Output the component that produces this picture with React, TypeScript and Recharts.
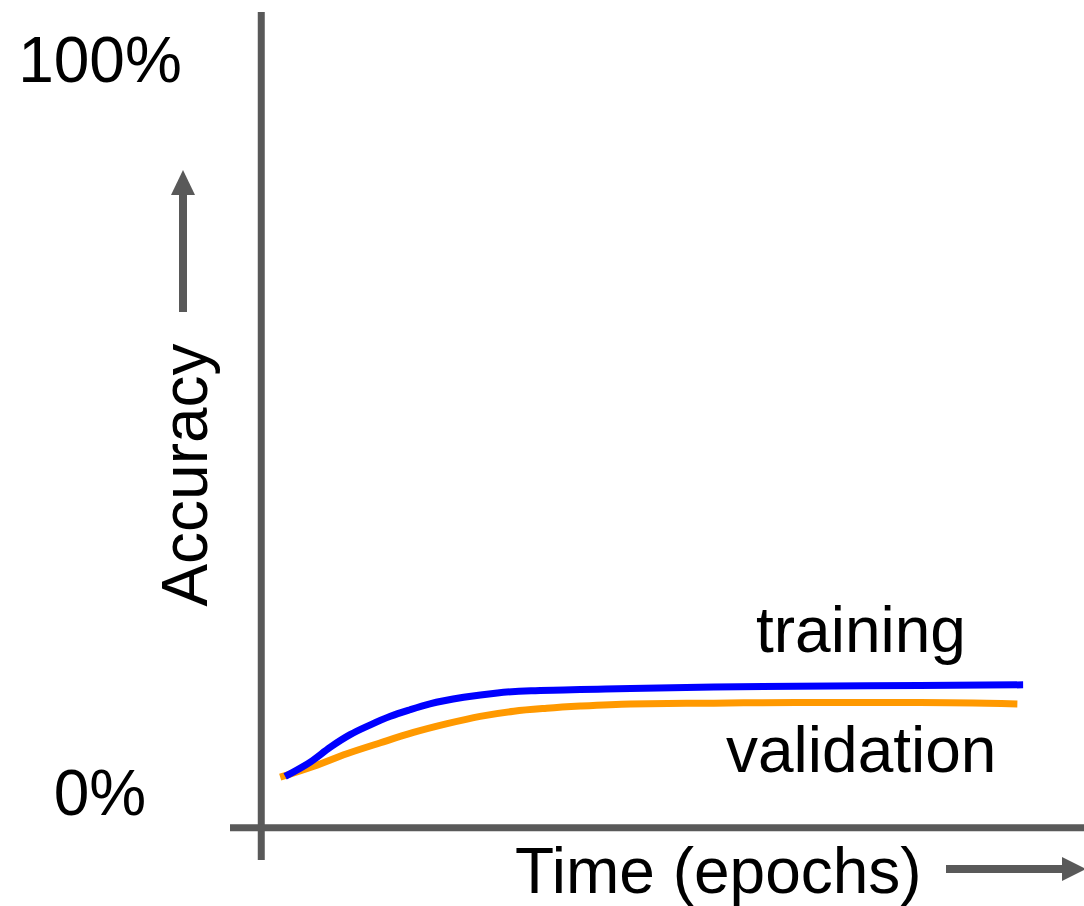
import { LineChart, Line, XAxis, YAxis, ReferenceLine, Customized } from 'recharts';

// epochs on a 0..100 scale, accuracy in %
const trainEpochs = [2.9, 6.0, 8.4, 10.8, 13.2, 15.7, 18.1, 20.5, 24.6, 28.7, 32.8, 36.8, 40.9, 44.9, 55, 65, 80, 92.6];
const trainAcc = [2.1, 4.1, 6.1, 7.8, 9.1, 10.3, 11.2, 12.0, 12.9, 13.5, 13.8, 13.9, 14.0, 14.1, 14.3, 14.4, 14.5, 14.6];
const valEpochs = [2.3, 6.4, 10.4, 14.5, 18.5, 22.6, 26.6, 30.7, 34.7, 38.8, 44.9, 55, 65, 80, 91.9];
const valAcc = [2.0, 3.5, 5.2, 6.7, 8.1, 9.3, 10.3, 11.0, 11.4, 11.7, 12.0, 12.1, 12.2, 12.2, 12.0];
const yTicks = [0, 100];
const tickLabels = ['0%', '100%'];

const training = trainEpochs.map((epoch, i) => ({ epoch, acc: trainAcc[i] }));
const validation = valEpochs.map((epoch, i) => ({ epoch, acc: valAcc[i] }));

const AXIS = '#595959';
const FONT = '"Liberation Sans", Arial, sans-serif';

function YTick({ y, payload }: any) {
  const idx = yTicks.indexOf(payload.value);
  return (
    <text x={100} y={y} dy={23} textAnchor="middle" fontSize={64} fontFamily={FONT} fill="#000">
      {tickLabels[idx]}
    </text>
  );
}

function Decorations() {
  return (
    <g fontFamily={FONT} fontSize={64} fill="#000">
      <text x={756} y={652}>training</text>
      <text x={726} y={772}>validation</text>
      <text x={515} y={893}>Time (epochs)</text>
      <text x={207} y={475} textAnchor="middle" transform="rotate(-90, 207, 475)">Accuracy</text>
      <rect x={179} y={194} width={8} height={118} fill={AXIS} />
      <polygon points="171,195 195,195 183,170" fill={AXIS} />
      <rect x={946} y={865} width={118} height={8} fill={AXIS} />
      <polygon points="1062,857 1062,881 1086,869" fill={AXIS} />
    </g>
  );
}

export default function App() {
  return (
    <div style={{ position: 'absolute', left: 0, top: 0, background: '#fff' }}>
      <LineChart width={1084} height={906} margin={{ top: 12, right: 0, bottom: 46, left: 30 }}>
        <XAxis dataKey="epoch" type="number" domain={[-3.8, 100]} hide allowDataOverflow />
        <YAxis
          type="number"
          domain={[-9.3, 106.4]}
          ticks={yTicks}
          width={200}
          axisLine={false}
          tickLine={false}
          tick={<YTick />}
          allowDataOverflow
        />
        <ReferenceLine x={0} stroke={AXIS} strokeWidth={7} />
        <ReferenceLine y={-4.9} stroke={AXIS} strokeWidth={7} />
        <Line
          data={validation}
          dataKey="acc"
          type="monotone"
          stroke="#FF9900"
          strokeWidth={7}
          dot={false}
          activeDot={false}
          isAnimationActive={false}
        />
        <Line
          data={training}
          dataKey="acc"
          type="monotone"
          stroke="#0000FF"
          strokeWidth={7}
          dot={false}
          activeDot={false}
          isAnimationActive={false}
        />
        <Customized component={<Decorations />} />
      </LineChart>
    </div>
  );
}
